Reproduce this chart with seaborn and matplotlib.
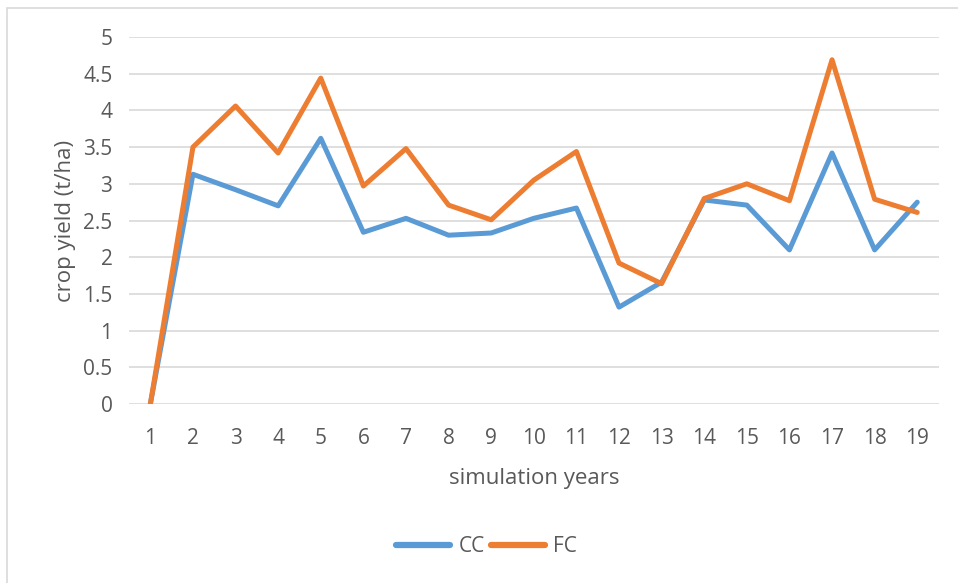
import pandas as pd
import matplotlib.pyplot as plt
import seaborn as sns
from matplotlib.patches import Rectangle

# data
years = list(range(1, 20))
cc = [0, 3.13, 2.92, 2.70, 3.62, 2.34, 2.53, 2.30, 2.33, 2.53,
      2.67, 1.32, 1.66, 2.78, 2.71, 2.10, 3.42, 2.10, 2.75]
fc = [0, 3.50, 4.06, 3.42, 4.44, 2.97, 3.48, 2.71, 2.51, 3.05,
      3.44, 1.92, 1.64, 2.80, 3.00, 2.77, 4.69, 2.79, 2.61]
series_names = ['CC', 'FC']
colors = ['#5B9BD5', '#ED7D31']
yticks = [0, 0.5, 1, 1.5, 2, 2.5, 3, 3.5, 4, 4.5, 5]
ytick_labels = ['0', '0.5', '1', '1.5', '2', '2.5', '3', '3.5', '4', '4.5', '5']

df = pd.DataFrame({
    'year': years * 2,
    'yield': cc + fc,
    'series': ['CC'] * len(cc) + ['FC'] * len(fc),
})

sns.set_style('white')
plt.rcParams['font.family'] = ['Open Sans', 'DejaVu Sans']
text_col = '#595959'

fig = plt.figure(figsize=(9.58, 5.83), dpi=100)
ax = fig.add_axes([0.1347, 0.307, 0.845, 0.6295])

# light chart-area border (runs off the right and bottom edges)
fig.patches.append(Rectangle((7 / 958, -0.05), 1.1, 1 - 8 / 583 + 0.05,
                             transform=fig.transFigure, fill=False,
                             edgecolor='#D9D9D9', linewidth=1.2))

sns.lineplot(data=df, x='year', y='yield', hue='series',
             hue_order=series_names, palette=colors,
             linewidth=3.6, ax=ax, legend=False)

ax.set_xlim(0.5, 19.5)
ax.set_ylim(0, 5)
ax.set_xticks(years)
ax.set_xticklabels([str(y) for y in years])
ax.set_yticks(yticks)
ax.set_yticklabels(ytick_labels)
ax.yaxis.grid(True, color='#D9D9D9', linewidth=1.2)
ax.set_axisbelow(True)
for s in ax.spines.values():
    s.set_visible(False)
ax.tick_params(axis='both', length=0, labelsize=15, colors=text_col)
ax.tick_params(axis='y', pad=12)
ax.tick_params(axis='x', pad=17)

ax.set_xlabel('simulation years', fontsize=16, color=text_col, labelpad=14)
ax.set_ylabel('crop yield (t/ha)', fontsize=16, color=text_col)
ax.yaxis.set_label_coords(-0.066, 0.5)

handles = [plt.Line2D([], [], color=c, linewidth=4.5, solid_capstyle='round')
           for c in colors]
fig.legend(handles, series_names, loc='center', bbox_to_anchor=(0.508, 0.062),
           ncol=2, frameon=False, fontsize=15, labelcolor=text_col,
           handlelength=2.6, handletextpad=0.4, columnspacing=0.3)

plt.savefig('out.png', dpi=100)
